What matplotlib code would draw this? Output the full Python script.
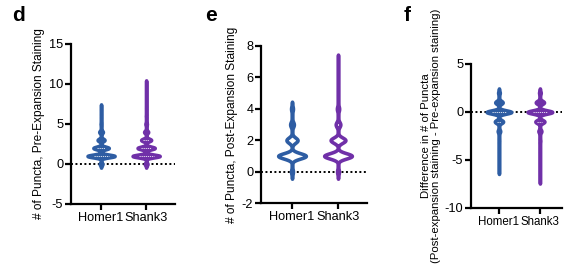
import numpy as np
import matplotlib
matplotlib.use("Agg")
import matplotlib.pyplot as plt

plt.rcParams['font.family'] = ['Liberation Sans', 'DejaVu Sans']
plt.rcParams['axes.unicode_minus'] = False

groups = ['Homer1', 'Shank3']
blue = '#2E5DA3'
purple = '#7030A8'

# counts of cells per number of puncta
pre_vals = np.arange(0, 11)
pre_homer = [15, 150, 85, 38, 20, 5, 2, 2, 0, 0, 0]
pre_shank = [15, 150, 95, 55, 22, 8, 3, 2, 1, 1, 1]

post_vals = np.arange(0, 8)
post_homer = [10, 150, 60, 20, 10, 0, 0, 0]
post_shank = [10, 150, 80, 25, 12, 2, 1, 1]

diff_vals = np.arange(-7, 3)
diff_homer = [0, 1, 1, 2, 4, 15, 50, 150, 45, 10]
diff_shank = [1, 1, 1, 2, 5, 18, 55, 150, 50, 10]

panels = [
    dict(letter='d', vals=pre_vals, data=[pre_homer, pre_shank],
         ylim=(-5, 15), yticks=[-5, 0, 5, 10, 15], xlim=(0.333, 2.64),
         fill=True, ylabel='# of Puncta, Pre-Expansion Staining', ylsize=8.6,
         rect=[71, 44, 175, 204], letter_xy=(12, 6)),
    dict(letter='e', vals=post_vals, data=[post_homer, post_shank],
         ylim=(-2, 8), yticks=[-2, 0, 2, 4, 6, 8], xlim=(0.326, 2.63),
         fill=False, ylabel='# of Puncta, Post-Expansion Staining', ylsize=8.6,
         rect=[261, 46, 367, 203], letter_xy=(205, 6)),
    dict(letter='f', vals=diff_vals, data=[diff_homer, diff_shank],
         ylim=(-10, 5), yticks=[-10, -5, 0, 5], xlim=(0.317, 2.54),
         fill=True, ylsize=8.2,
         ylabel='Difference in # of Puncta\n(Post-expansion staining - Pre-expansion staining)',
         rect=[471, 64, 562, 208], letter_xy=(404, 6)),
]

W, H = 577, 269
fig = plt.figure(figsize=(W / 100, H / 100), dpi=100)


def violin(ax, pos, vals, counts, color, fill, halfw=0.3, bw=0.17):
    vals = np.asarray(vals, float)
    counts = np.asarray(counts, float)
    present = vals[counts > 0]
    y = np.linspace(present.min() - 0.45, present.max() + 0.45, 800)
    dens = (counts[None, :] * np.exp(-0.5 * ((y[:, None] - vals[None, :]) / bw) ** 2)).sum(axis=1)
    dens = dens / dens.max() * halfw
    face = color if fill else 'white'
    ax.fill_betweenx(y, pos - dens, pos + dens, facecolor=face, edgecolor=color,
                     linewidth=2.6, joinstyle='round', capstyle='round', zorder=3)
    data = np.repeat(vals, counts.astype(int))
    for q in np.unique(np.percentile(data, [25, 50, 75])):
        w = np.interp(q, y, dens) * 0.55
        ax.hlines(q, pos - w, pos + w, colors='white', linewidth=0.6,
                  linestyles=(0, (1.5, 1)), zorder=4, alpha=0.9)


for p in panels:
    l, t, r, b = p['rect']
    ax = fig.add_axes([l / W, 1 - b / H, (r - l) / W, (b - t) / H])
    ax.axhline(0, color='black', linestyle=(0, (1, 1.3)), linewidth=1.4, zorder=2)
    for i, (counts, col) in enumerate(zip(p['data'], [blue, purple])):
        violin(ax, i + 1, p['vals'], counts, col, p['fill'])
    ax.set_ylim(*p['ylim'])
    ax.set_yticks(p['yticks'])
    ax.set_xlim(*p['xlim'])
    ax.set_xticks([1, 2])
    ax.set_xticklabels(groups)
    for s in ['top', 'right']:
        ax.spines[s].set_visible(False)
    for s in ['left', 'bottom']:
        ax.spines[s].set_linewidth(1.6)
    ax.tick_params(width=1.6, length=4, labelsize=9.2, pad=1.5)
    if p['letter'] == 'f':
        ax.tick_params(axis='x', labelsize=8.3)
    ax.set_ylabel(p['ylabel'], fontsize=p['ylsize'], labelpad=3, linespacing=1.0)
    fig.text(p['letter_xy'][0] / W, 1 - p['letter_xy'][1] / H, p['letter'],
             fontsize=15, fontweight='bold', va='top', ha='left')

fig.savefig('out.png', dpi=100)
